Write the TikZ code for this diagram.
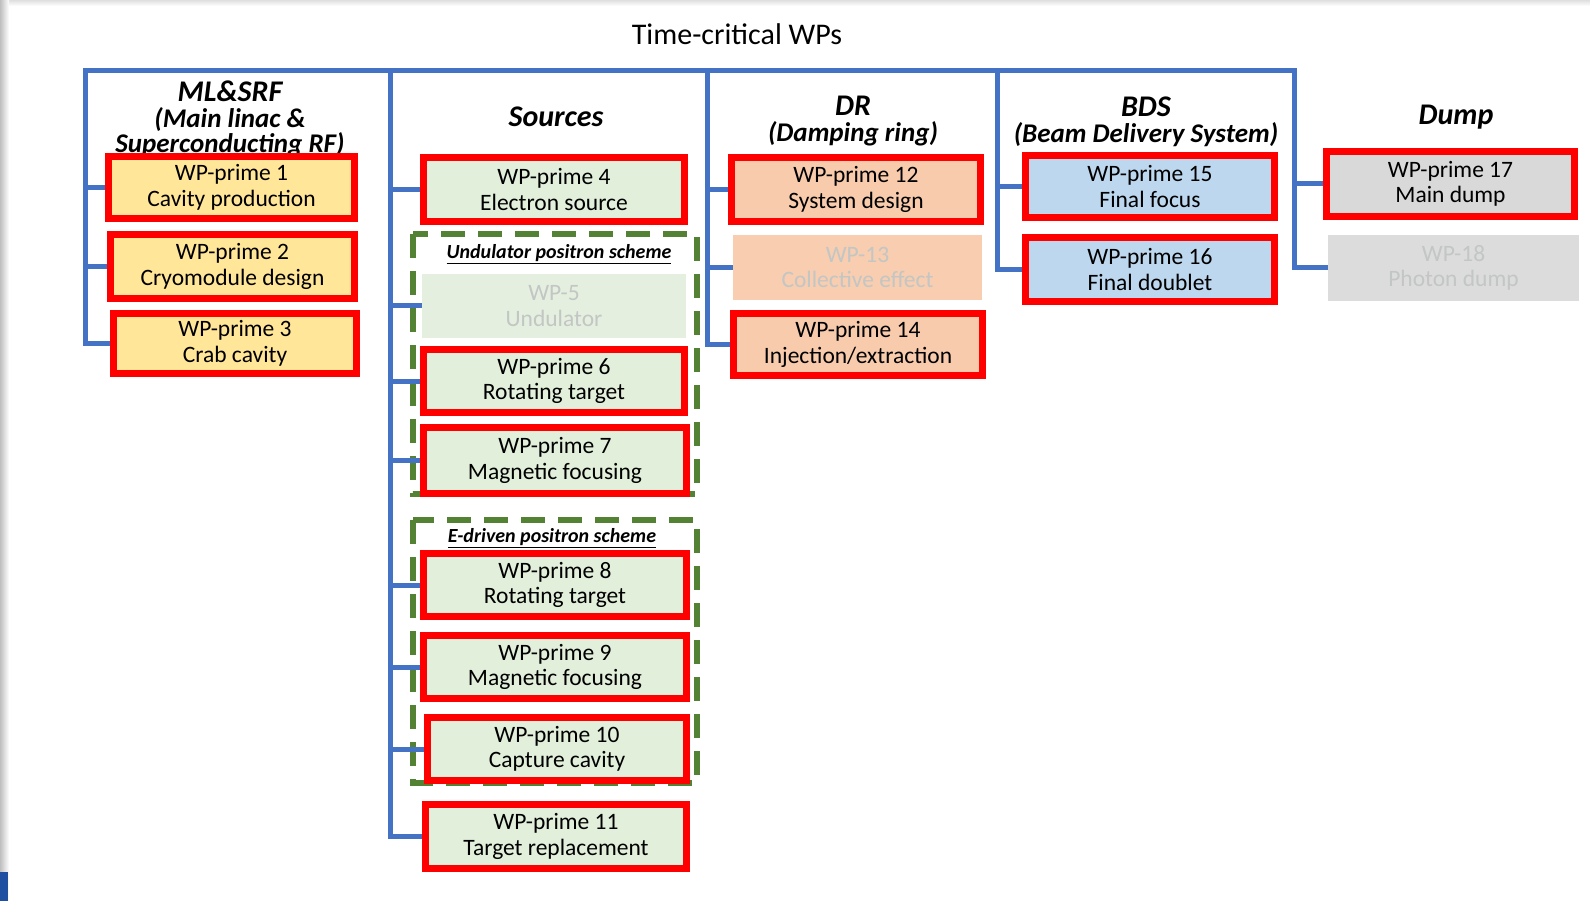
\documentclass[tikz,border=0pt]{standalone}
\usepackage{fontspec}
\setmainfont{Carlito}
\definecolor{busblue}{HTML}{4472C4}
\definecolor{wpred}{HTML}{FF0000}
\definecolor{fillY}{HTML}{FFE699}
\definecolor{fillG}{HTML}{E2EFDA}
\definecolor{fillO}{HTML}{F8CBAD}
\definecolor{fillB}{HTML}{BDD7EE}
\definecolor{fillD}{HTML}{D9D9D9}
\definecolor{dashgreen}{HTML}{548235}
\definecolor{fadeG}{HTML}{E5EFDF}
\definecolor{fadeO}{HTML}{F8CDB0}
\definecolor{fadeD}{HTML}{DCDCDC}
\definecolor{fadetext}{HTML}{C2C6C4}
\definecolor{cornerblue}{HTML}{1F4FA0}
\newcommand{\boxfont}{\fontsize{23.5}{25.5}\selectfont}
\newcommand{\headfont}{\fontsize{30}{25.5}\selectfont\bfseries\itshape}
\newcommand{\subfont}{\fontsize{27}{25.5}\selectfont}
\newcommand{\schemefont}{\fontsize{20}{22}\selectfont\bfseries\itshape}
\tikzset{
  wp/.style={rectangle, draw=wpred, line width=7pt, inner sep=0pt, align=center, font=\boxfont, text=black},
  ylw/.style={wp, fill=fillY},
  grn/.style={wp, fill=fillG},
  org/.style={wp, fill=fillO},
  blu/.style={wp, fill=fillB},
  gry/.style={wp, fill=fillD},
  faded/.style={rectangle, draw=none, inner sep=0pt, align=center, font=\boxfont, text=fadetext},
  bus/.style={draw=busblue, line width=5pt, line join=miter},
  scheme/.style={draw=dashgreen, line width=6pt, dash pattern=on 24pt off 13pt},
  head/.style={align=center, font=\headfont, inner sep=0pt},
  schemelabel/.style={font=\schemefont, inner sep=0pt}
}
\begin{document}
\begin{tikzpicture}[x=1pt,y=-1pt]
\useasboundingbox (0,0) rectangle (1590,901);
\fill[white] (0,0) rectangle (1590,901);
\shade[top color=gray!25, bottom color=white] (0,0) rectangle (1590,6);
\shade[left color=gray!50, right color=white] (0,0) rectangle (9,901);
\fill[cornerblue] (0,872) rectangle (8,901);

\node[font=\fontsize{30}{32}\selectfont, inner sep=0pt] (title) at (737,34) {Time-critical WPs};

% column headers
\node[head] (hml) at (230,119) {ML\&SRF\\{\subfont(Main linac \&}\\{\subfont Superconducting RF)}};
\node[head] (hsr) at (556,117) {Sources};
\node[head] (hdr) at (853,121) {DR\\{\subfont(Damping ring)}};
\node[head] (hbd) at (1146,122) {BDS\\{\subfont(Beam Delivery System)}};
\node[head] (hdp) at (1456,117) {Dump};

% dashed scheme frames
\draw[scheme] (413,234) rectangle (697,494);
\draw[scheme] (413,520) rectangle (697,783);
\node[schemelabel] (lund) at (559,254) {\underline{Undulator positron scheme}};
\node[schemelabel] (ledr) at (552,538) {\underline{E-driven positron scheme}};

% bus coordinates
\coordinate (mlT) at (85,71);
\coordinate (srT) at (390,71);
\coordinate (drT) at (707,71);
\coordinate (bdT) at (997,71);
\coordinate (dpT) at (1294,71);

% boxes (geometry only, drawn later on top)
\path
 node[ylw, minimum width=246pt, minimum height=62pt] (wp1) at (231.5,187.5) {WP-prime 1\\Cavity production}
 node[ylw, minimum width=244pt, minimum height=64pt] (wp2) at (232.5,266.5) {WP-prime 2\\Cryomodule design}
 node[ylw, minimum width=243pt, minimum height=60pt] (wp3) at (235,343.5) {WP-prime 3\\Crab cavity}
 node[grn, minimum width=261pt, minimum height=64pt] (wp4) at (554,189.5) {WP-prime 4\\Electron source}
 node[faded, fill=fadeG, minimum width=264pt, minimum height=64pt] (wp5) at (554,306) {WP-5\\Undulator}
 node[grn, minimum width=261pt, minimum height=63pt] (wp6) at (554,381) {WP-prime 6\\Rotating target}
 node[grn, minimum width=263pt, minimum height=66pt] (wp7) at (555,460.5) {WP-prime 7\\Magnetic focusing}
 node[grn, minimum width=263pt, minimum height=63pt] (wp8) at (555,585) {WP-prime 8\\Rotating target}
 node[grn, minimum width=263pt, minimum height=63pt] (wp9) at (555,667) {WP-prime 9\\Magnetic focusing}
 node[grn, minimum width=259pt, minimum height=63pt] (wp10) at (557,749) {WP-prime 10\\Capture cavity}
 node[grn, minimum width=261pt, minimum height=64pt] (wp11) at (556,836.5) {WP-prime 11\\Target replacement}
 node[org, minimum width=249pt, minimum height=64pt] (wp12) at (856,189.5) {WP-prime 12\\System design}
 node[faded, fill=fadeO, minimum width=249pt, minimum height=65pt] (wp13) at (857.5,267.5) {WP-13\\Collective effect}
 node[org, minimum width=249pt, minimum height=62pt] (wp14) at (858,344.5) {WP-prime 14\\Injection/extraction}
 node[blu, minimum width=249pt, minimum height=62pt] (wp15) at (1150,186.5) {WP-prime 15\\Final focus}
 node[blu, minimum width=249pt, minimum height=64pt] (wp16) at (1150,269.5) {WP-prime 16\\Final doublet}
 node[gry, minimum width=248pt, minimum height=65pt] (wp17) at (1450.5,184) {WP-prime 17\\Main dump}
 node[faded, fill=fadeD, minimum width=251pt, minimum height=66pt] (wp18) at (1453.5,268) {WP-18\\Photon dump};

% connectors
\draw[bus] (wp3.west) -| (mlT) -- (dpT) |- (wp18.west);
\draw[bus] (mlT |- wp1.west) -- (wp1.west);
\draw[bus] (mlT |- wp2.west) -- (wp2.west);
\draw[bus] (srT) |- (wp11.west);
\foreach \n in {wp4,wp5,wp6,wp7,wp8,wp9,wp10} \draw[bus] (srT |- \n.west) -- (\n.west);
\draw[bus] (drT) |- (wp14.west);
\foreach \n in {wp12,wp13} \draw[bus] (drT |- \n.west) -- (\n.west);
\draw[bus] (bdT) |- (wp16.west);
\draw[bus] (bdT |- wp15.west) -- (wp15.west);
\draw[bus] (dpT |- wp17.west) -- (wp17.west);

% redraw boxes on top of connectors
\node[ylw, minimum width=246pt, minimum height=62pt] at (wp1) {WP-prime 1\\Cavity production};
\node[ylw, minimum width=244pt, minimum height=64pt] at (wp2) {WP-prime 2\\Cryomodule design};
\node[ylw, minimum width=243pt, minimum height=60pt] at (wp3) {WP-prime 3\\Crab cavity};
\node[grn, minimum width=261pt, minimum height=64pt] at (wp4) {WP-prime 4\\Electron source};
\node[faded, fill=fadeG, minimum width=264pt, minimum height=64pt] at (wp5) {WP-5\\Undulator};
\node[grn, minimum width=261pt, minimum height=63pt] at (wp6) {WP-prime 6\\Rotating target};
\node[grn, minimum width=263pt, minimum height=66pt] at (wp7) {WP-prime 7\\Magnetic focusing};
\node[grn, minimum width=263pt, minimum height=63pt] at (wp8) {WP-prime 8\\Rotating target};
\node[grn, minimum width=263pt, minimum height=63pt] at (wp9) {WP-prime 9\\Magnetic focusing};
\node[grn, minimum width=259pt, minimum height=63pt] at (wp10) {WP-prime 10\\Capture cavity};
\node[grn, minimum width=261pt, minimum height=64pt] at (wp11) {WP-prime 11\\Target replacement};
\node[org, minimum width=249pt, minimum height=64pt] at (wp12) {WP-prime 12\\System design};
\node[faded, fill=fadeO, minimum width=249pt, minimum height=65pt] at (wp13) {WP-13\\Collective effect};
\node[org, minimum width=249pt, minimum height=62pt] at (wp14) {WP-prime 14\\Injection/extraction};
\node[blu, minimum width=249pt, minimum height=62pt] at (wp15) {WP-prime 15\\Final focus};
\node[blu, minimum width=249pt, minimum height=64pt] at (wp16) {WP-prime 16\\Final doublet};
\node[gry, minimum width=248pt, minimum height=65pt] at (wp17) {WP-prime 17\\Main dump};
\node[faded, fill=fadeD, minimum width=251pt, minimum height=66pt] at (wp18) {WP-18\\Photon dump};
\end{tikzpicture}
\end{document}
